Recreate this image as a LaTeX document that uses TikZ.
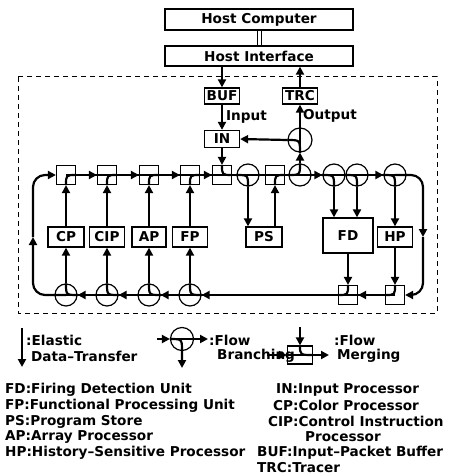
\documentclass[tikz,border=0pt]{standalone}
\usepackage{fontspec}
\setmainfont{DejaVu Sans}
\usetikzlibrary{arrows.meta}

\newcommand*{\ringtop}{175}
\newcommand*{\ringbot}{295}
\newcommand*{\ringleft}{33}
\newcommand*{\ringright}{423}
\newcommand*{\unitrow}{237}

\begin{document}
\begin{tikzpicture}
[
	x=1pt,
	y=-1pt,
	font=\fontsize{13.6}{15}\selectfont\bfseries,
	unit/.style={draw,line width=1.3pt,inner sep=0pt,minimum height=20pt,minimum width=35pt},
	hostbox/.style={draw,line width=1.3pt,inner sep=0pt,minimum height=20pt,minimum width=188pt},
	mergept/.style={draw,line width=1.2pt,inner sep=0pt,minimum size=19pt},
	branchpt/.style={circle,draw,line width=1.2pt,inner sep=0pt,minimum size=22pt},
	wire/.style={line width=2.2pt},
	flow/.style={line width=2.2pt,-{Triangle[length=8pt,width=8pt]}},
	txt/.style={anchor=west,inner sep=0pt}
]

	\useasboundingbox (0,0) rectangle (448,476);

	% host side
	\node[hostbox,minimum height=21pt] (hc) at (259,19.5) {Host Computer};
	\node[hostbox] (hi) at (259,56) {Host Interface};
	\draw[line width=1pt,double distance=3pt] (hc.south) -- (hi.north);

	% machine boundary
	\draw[dashed,dash pattern=on 5pt off 4pt,line width=1pt] (18,77) rectangle (437,313);

	\node[unit,minimum height=16pt] (buf) at (222,96) {BUF};
	\node[unit,minimum height=16pt] (trc) at (300,96) {TRC};
	\node[unit,minimum height=17pt] (in) at (222,139) {IN};
	\node[branchpt,minimum size=24pt] (obr) at (300,140) {};

	% upper ring
	\node[mergept] (m1) at (66,\ringtop) {};
	\node[mergept] (m2) at (107,\ringtop) {};
	\node[mergept] (m3) at (149,\ringtop) {};
	\node[mergept] (m4) at (190,\ringtop) {};
	\node[mergept] (min) at (222,\ringtop) {};
	\node[branchpt] (bps) at (248,\ringtop) {};
	\node[mergept] (mps) at (275,\ringtop) {};
	\node[branchpt] (bout) at (300,\ringtop) {};
	\node[branchpt] (bfd1) at (334,\ringtop) {};
	\node[branchpt] (bfd2) at (357,\ringtop) {};
	\node[branchpt] (bhp) at (395,\ringtop) {};

	% processing units
	\node[unit,minimum width=36pt] (cp) at (66,\unitrow) {CP};
	\node[unit] (cip) at (107,\unitrow) {CIP};
	\node[unit,minimum width=34pt] (ap) at (149,\unitrow) {AP};
	\node[unit] (fp) at (190,\unitrow) {FP};
	\node[unit,minimum width=36pt] (ps) at (264,\unitrow) {PS};
	\node[unit,minimum width=50pt,minimum height=35pt] (fd) at (348,235.5) {FD};
	\node[unit] (hp) at (395,\unitrow) {HP};

	% lower ring
	\node[branchpt] (c1) at (66,\ringbot) {};
	\node[branchpt] (c2) at (107,\ringbot) {};
	\node[branchpt] (c3) at (149,\ringbot) {};
	\node[branchpt] (c4) at (190,\ringbot) {};
	\node[mergept] (mfd) at (348,\ringbot) {};
	\node[mergept] (mhp) at (395,\ringbot) {};

	\coordinate (nw) at (\ringleft,\ringtop);
	\coordinate (ne) at (\ringright,\ringtop);
	\coordinate (se) at (\ringright,\ringbot);
	\coordinate (sw) at (\ringleft,\ringbot);
	\coordinate (rmid) at (\ringright,\unitrow);
	\coordinate (lmid) at (\ringleft,\unitrow);

	% ring lines
	\draw[wire] (m1.center) -- (bhp.center);
	\draw[wire] (mhp.center) -- (c1.center);
	\foreach \a/\b in {m1/m2,m2/m3,m3/m4,m4/min,bout/bfd1,bfd2/bhp}
		\draw[flow] (\a.center) -- (\b.west);
	\foreach \a/\b in {mhp/mfd,mfd/c4,c4/c3,c3/c2,c2/c1}
		\draw[flow] (\a.center) -- (\b.east);
	\draw[flow,rounded corners=12pt] (bhp.center) -- (ne) -- (rmid);
	\draw[flow,rounded corners=12pt] (rmid) -- (se) -- (mhp.east);
	\draw[flow,rounded corners=12pt] (c1.center) -- (sw) -- (lmid);
	\draw[flow,rounded corners=12pt] (lmid) -- (nw) -- (m1.west);

	% merging and branching
	\foreach \m in {m1,m2,m3,m4,mps}
		\draw[wire] (\m.south) .. controls (\m.center) .. (\m.east);
	\draw[wire] (min.north) .. controls (min.center) .. (min.east);
	\foreach \m in {mfd,mhp}
		\draw[wire] (\m.north) .. controls (\m.center) .. (\m.west);
	\foreach \b in {bps,bfd1,bfd2,bhp}
		\draw[wire] (\b.west) .. controls (\b.center) .. (\b.south);
	\draw[wire] (bout.west) .. controls (bout.center) .. (bout.north);
	\draw[wire] (obr.south) .. controls (obr.center) .. (obr.west);
	\foreach \c in {c1,c2,c3,c4}
		\draw[wire] (\c.east) .. controls (\c.center) .. (\c.north);

	% transfers to and from units
	\foreach \c/\p/\m in {c1/cp/m1,c2/cip/m2,c3/ap/m3,c4/fp/m4}
	{
		\draw[flow] (\c.north) -- (\p.south);
		\draw[flow] (\p.north) -- (\m.south);
	}
	\draw[flow] (bps.south) -- (bps.south |- ps.north);
	\draw[flow] (mps.south |- ps.north) -- (mps.south);
	\draw[flow] (bfd1.south) -- (bfd1.south |- fd.north);
	\draw[flow] (bfd2.south) -- (bfd2.south |- fd.north);
	\draw[flow] (fd.south) -- (mfd.north);
	\draw[flow] (bhp.south) -- (hp.north);
	\draw[flow] (hp.south) -- (mhp.north);

	% input and output
	\draw[flow] (buf.north |- hi.south) -- (buf.north);
	\draw[flow] (buf.south) -- (in.north) node[midway,right,inner sep=3pt] {Input};
	\draw[flow] (in.south) -- (min.north);
	\draw[flow] (bout.north) -- (obr.south);
	\draw[wire] (obr.south) -- (obr.north);
	\draw[flow] (obr.north) -- (trc.south) node[midway,right,inner sep=2pt] {Output};
	\draw[flow] (obr.west) -- (in.east);
	\draw[flow] (trc.north) -- (trc.north |- hi.south);

	% legend symbols
	\coordinate (et) at (22,328);
	\coordinate (eb) at (22,367);
	\draw[flow] (et) -- (eb);
	\node[txt] (elastic) at (26,340) {:Elastic};
	\node[txt] (datatr) at (31,356) {Data–Transfer};

	\node[branchpt,minimum size=23pt] (lb) at (182,339) {};
	\coordinate (lbin) at (157,339);
	\coordinate (lbout) at (208,339);
	\coordinate (lbdown) at (182,368);
	\draw[flow] (lbin) -- (lb.west);
	\draw[wire] (lb.west) -- (lb.east);
	\draw[flow] (lb.east) -- (lbout);
	\draw[flow] (lb.west) .. controls (lb.center) .. (lb.south) -- (lbdown);
	\node[txt] (flowb) at (209,340) {:Flow};
	\node[txt] (branching) at (217,356) {Branching};

	\node[mergept,minimum width=25pt,minimum height=18pt] (lm) at (300,355) {};
	\coordinate (lmtop) at (300,327);
	\coordinate (lmin) at (267,355);
	\coordinate (lmout) at (329,355);
	\draw[flow] (lmtop) -- (lm.north);
	\draw[wire] (lm.north) .. controls (lm.center) .. (lm.east);
	\draw[flow] (lmin) -- (lm.west);
	\draw[wire] (lm.west) -- (lm.east);
	\draw[flow] (lm.east) -- (lmout);
	\node[txt] (flowm) at (334,340) {:Flow};
	\node[txt] (merging) at (337,356) {Merging};

	% abbreviations
	\node[txt] (kfd) at (5,390) {FD:Firing Detection Unit};
	\node[txt] (kfp) at (5,405.5) {FP:Functional Processing Unit};
	\node[txt] (kps) at (5,421.5) {PS:Program Store};
	\node[txt] (kap) at (5,437) {AP:Array Processor};
	\node[txt] (khp) at (5,453) {HP:History–Sensitive Processor};

	\node[txt] (kin) at (276,390) {IN:Input Processor};
	\node[txt] (kcp) at (273,405.5) {CP:Color Processor};
	\node[txt] (kcip) at (268,421.5) {CIP:Control Instruction};
	\node[txt] (kcip2) at (305,437) {Processor};
	\node[txt] (kbuf) at (257,453) {BUF:Input–Packet Buffer};
	\node[txt] (ktrc) at (257,468) {TRC:Tracer};

\end{tikzpicture}
\end{document}
